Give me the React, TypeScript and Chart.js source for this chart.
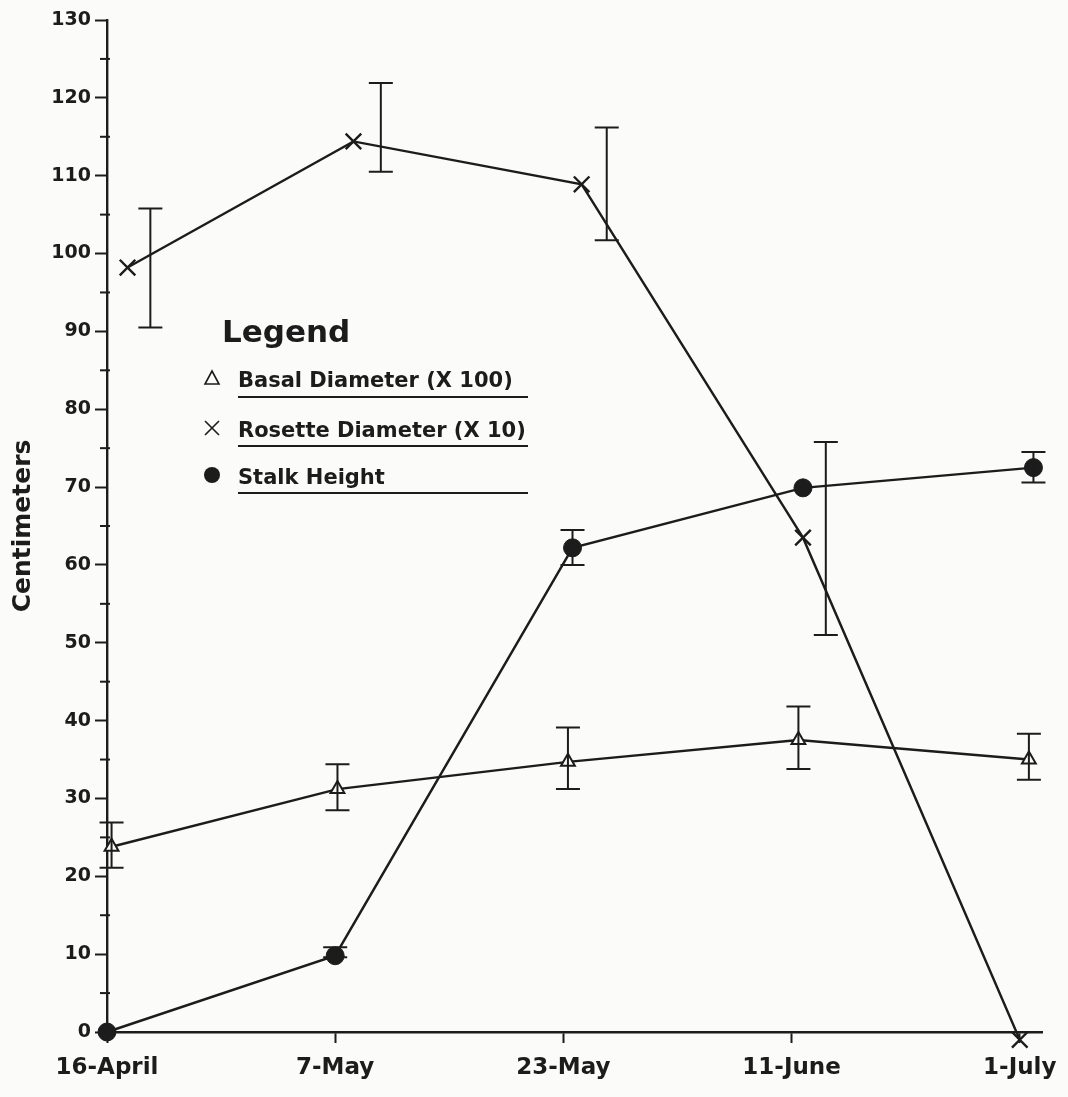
import React, { useEffect, useRef } from "react";
import { Chart, registerables } from "chart.js";

Chart.register(...registerables);

// ---- data ----
const categories = ["16-April", "7-May", "23-May", "11-June", "1-July"];
const yTickValues = [0, 10, 20, 30, 40, 50, 60, 70, 80, 90, 100, 110, 120, 130];
const yMinorTicks = [5, 15, 25, 35, 45, 55, 65, 75, 85, 95, 105, 115, 125];

const basalLabel = "Basal Diameter (X 100)";
const basalX = [0.02, 1.01, 2.02, 3.03, 4.04];
const basalValues = [23.8, 31.2, 34.7, 37.5, 35.0];
const basalHigh = [26.9, 34.4, 39.1, 41.8, 38.3];
const basalLow = [21.1, 28.5, 31.2, 33.8, 32.4];

const rosetteLabel = "Rosette Diameter (X 10)";
const rosetteX = [0.09, 1.08, 2.08, 3.05, 4.0];
const rosetteValues = [98.2, 114.4, 108.9, 63.5, -1.0];
const rosetteErrX = [0.19, 1.2, 2.19, 3.15];
const rosetteHigh = [105.8, 121.9, 116.2, 75.8];
const rosetteLow = [90.5, 110.5, 101.7, 51.0];

const stalkLabel = "Stalk Height";
const stalkX = [0.0, 1.0, 2.04, 3.05, 4.06];
const stalkValues = [0, 9.8, 62.2, 69.9, 72.5];
const stalkErrX = [1.0, 2.04, 4.06];
const stalkHigh = [10.9, 64.5, 74.5];
const stalkLow = [9.6, 60.0, 70.6];

const INK = "#1c1c1c";
const FONT = "'DejaVu Sans', 'Liberation Sans', sans-serif";

function pts(xs: number[], ys: number[]) {
  return xs.map((x, i) => ({ x, y: ys[i] }));
}

export default function App() {
  const ref = useRef<HTMLCanvasElement | null>(null);

  useEffect(() => {
    if (!ref.current) return;

    const bgPlugin = {
      id: "bg",
      beforeDraw(chart: any) {
        const { ctx, width, height } = chart;
        ctx.save();
        ctx.fillStyle = "#fbfbfa";
        ctx.fillRect(0, 0, width, height);
        ctx.restore();
      },
    };

    const extrasPlugin = {
      id: "extras",
      afterDatasetsDraw(chart: any) {
        const { ctx } = chart;
        const xs = chart.scales.x;
        const ys = chart.scales.y;
        ctx.save();
        ctx.strokeStyle = INK;
        ctx.lineWidth = 2;
        const bar = (xv: number, lo: number, hi: number, cap: number) => {
          const px = xs.getPixelForValue(xv);
          const pl = ys.getPixelForValue(lo);
          const ph = ys.getPixelForValue(hi);
          ctx.beginPath();
          ctx.moveTo(px, pl);
          ctx.lineTo(px, ph);
          ctx.moveTo(px - cap, pl);
          ctx.lineTo(px + cap, pl);
          ctx.moveTo(px - cap, ph);
          ctx.lineTo(px + cap, ph);
          ctx.stroke();
        };
        basalX.forEach((x, i) => bar(x, basalLow[i], basalHigh[i], 12));
        rosetteErrX.forEach((x, i) => bar(x, rosetteLow[i], rosetteHigh[i], 12));
        stalkErrX.forEach((x, i) => bar(x, stalkLow[i], stalkHigh[i], 12));

        // minor ticks on y axis
        const ax = ys.right;
        yMinorTicks.forEach((v) => {
          const py = ys.getPixelForValue(v);
          ctx.beginPath();
          ctx.moveTo(ax - 7, py);
          ctx.lineTo(ax + 3, py);
          ctx.stroke();
        });

        // legend
        ctx.fillStyle = INK;
        ctx.textBaseline = "alphabetic";
        ctx.textAlign = "left";
        ctx.font = `bold 31px ${FONT}`;
        ctx.fillText("Legend", 222, 342);

        const items = [
          { label: basalLabel, y: 387, line: 397, sym: "tri" },
          { label: rosetteLabel, y: 437, line: 446, sym: "x" },
          { label: stalkLabel, y: 484, line: 493, sym: "dot" },
        ];
        items.forEach((it) => {
          ctx.font = `bold 21px ${FONT}`;
          ctx.fillText(it.label, 238, it.y);
          ctx.beginPath();
          ctx.lineWidth = 2;
          ctx.moveTo(238, it.line);
          ctx.lineTo(528, it.line);
          ctx.stroke();
          const sx = 212;
          const sy = it.y - 9;
          ctx.lineWidth = 1.6;
          if (it.sym === "tri") {
            ctx.beginPath();
            ctx.moveTo(sx, sy - 7);
            ctx.lineTo(sx + 7, sy + 6);
            ctx.lineTo(sx - 7, sy + 6);
            ctx.closePath();
            ctx.stroke();
          } else if (it.sym === "x") {
            ctx.beginPath();
            ctx.moveTo(sx - 7, sy - 7);
            ctx.lineTo(sx + 7, sy + 7);
            ctx.moveTo(sx + 7, sy - 7);
            ctx.lineTo(sx - 7, sy + 7);
            ctx.stroke();
          } else {
            ctx.beginPath();
            ctx.arc(sx, sy, 8, 0, Math.PI * 2);
            ctx.fill();
          }
        });
        ctx.restore();
      },
    };

    const lineCommon = {
      borderColor: INK,
      borderWidth: 2.4,
      tension: 0,
      clip: false as any,
      showLine: true,
    };

    const chart = new Chart(ref.current, {
      type: "scatter",
      data: {
        datasets: [
          {
            ...lineCommon,
            label: basalLabel,
            data: pts(basalX, basalValues),
            pointStyle: "triangle",
            pointRadius: 8,
            pointBackgroundColor: "#fbfbfa",
            pointBorderColor: INK,
            pointBorderWidth: 2,
          },
          {
            ...lineCommon,
            label: rosetteLabel,
            data: pts(rosetteX, rosetteValues),
            pointStyle: "crossRot",
            pointRadius: 11,
            pointBorderColor: INK,
            pointBorderWidth: 2.4,
          },
          {
            ...lineCommon,
            label: stalkLabel,
            data: pts(stalkX, stalkValues),
            pointStyle: "circle",
            pointRadius: 9,
            pointBackgroundColor: INK,
            pointBorderColor: INK,
            pointBorderWidth: 1,
          },
        ],
      },
      options: {
        responsive: false,
        animation: false,
        events: [],
        layout: { padding: { top: 20, right: 23, left: 0, bottom: 0 } },
        plugins: {
          legend: { display: false },
          tooltip: { enabled: false },
        },
        scales: {
          x: {
            type: "linear",
            min: 0,
            max: 4.1,
            afterFit: (s: any) => {
              s.height = 65;
            },
            afterBuildTicks: (s: any) => {
              s.ticks = categories.map((_, i) => ({ value: i }));
            },
            ticks: {
              autoSkip: false,
              maxRotation: 0,
              padding: 11,
              color: INK,
              font: { family: FONT, size: 23, weight: "bold" },
              callback: (v: any) => categories[Math.round(Number(v))] ?? "",
            },
            grid: {
              drawOnChartArea: false,
              drawTicks: true,
              tickLength: 11,
              tickColor: INK,
              tickWidth: 2,
            },
            border: { display: true, color: INK, width: 2.4 },
          },
          y: {
            type: "linear",
            min: 0,
            max: 130,
            afterFit: (s: any) => {
              s.width = 107;
            },
            afterBuildTicks: (s: any) => {
              s.ticks = yTickValues.map((v) => ({ value: v }));
            },
            ticks: {
              padding: 4,
              color: INK,
              font: { family: FONT, size: 19, weight: "bold" },
            },
            title: {
              display: true,
              text: "Centimeters",
              color: INK,
              font: { family: FONT, size: 25, weight: "bold" },
              padding: { top: 8, bottom: 0 },
            },
            grid: {
              drawOnChartArea: false,
              drawTicks: true,
              tickLength: 12,
              tickColor: INK,
              tickWidth: 2,
            },
            border: { display: true, color: INK, width: 2.4 },
          },
        },
      },
      plugins: [bgPlugin, extrasPlugin],
    } as any);

    return () => chart.destroy();
  }, []);

  return (
    <div style={{ position: "fixed", left: 0, top: 0, width: 1068, height: 1097 }}>
      <canvas ref={ref} width={1068} height={1097} style={{ width: 1068, height: 1097, display: "block" }} />
    </div>
  );
}
